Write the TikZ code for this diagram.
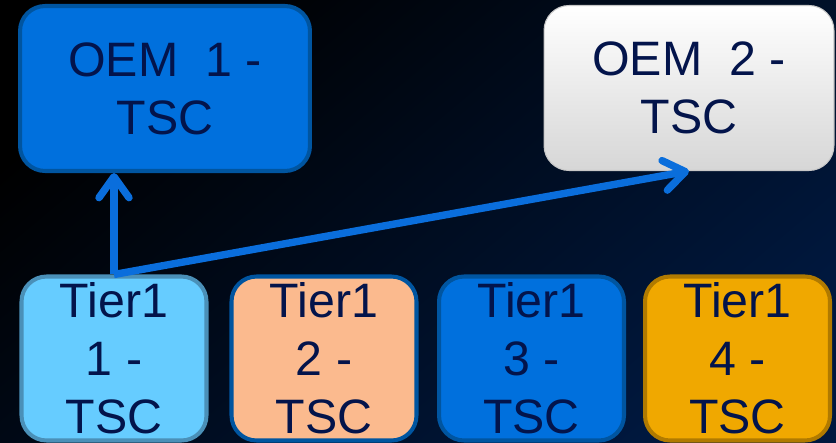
\documentclass[tikz,border=0pt]{standalone}
\usepackage{fontspec}
\setmainfont{Liberation Sans}
\usepackage{tikz}
\usetikzlibrary{arrows.meta,calc}

\definecolor{bgnavy}{RGB}{0,24,62}
\definecolor{bgmid}{RGB}{0,6,18}
\definecolor{oemblue}{RGB}{0,112,221}
\definecolor{oemline}{RGB}{0,85,160}
\definecolor{tskyfill}{RGB}{102,204,255}
\definecolor{tskyline}{RGB}{74,144,184}
\definecolor{tpeach}{RGB}{251,186,142}
\definecolor{torange}{RGB}{240,168,0}
\definecolor{toranline}{RGB}{176,122,0}
\definecolor{linkblue}{RGB}{10,110,220}
\definecolor{txtnavy}{RGB}{3,20,75}

\tikzset{
  tsc/.style={rounded corners=0.5cm, line width=2.3pt, align=center,
    text=txtnavy, font=\fontsize{27.5}{33}\selectfont, inner sep=0pt},
  oembox/.style={tsc, minimum width=5.8cm, minimum height=3.3cm},
  tierbox/.style={tsc, minimum width=3.7cm, minimum height=3.28cm},
  link/.style={draw=linkblue, line width=4.2pt,
    -{Straight Barb[length=0.42cm,width=0.6cm,round]}}
}

\begin{document}
\begin{tikzpicture}[x=0.02cm,y=-0.02cm]
% Background
\shade[top color=black, middle color=bgmid, bottom color=bgnavy, shading angle=40]
  (0,0) rectangle (836,443);
\useasboundingbox (0,0) rectangle (836,443);

% OEM level
\node[oembox, fill=oemblue, draw=oemline] (oem1) at (165,88.5) {OEM\ \ 1 -\\TSC};
\node[oembox, top color=white, bottom color=black!16, draw=black!22, line width=0.6pt]
  (oem2) at (689,88) {OEM\ \ 2 -\\TSC};

% Tier1 level
\node[tierbox, fill=tskyfill, draw=tskyline] (t1) at (114,358.5) {Tier1\\1 -\\TSC};
\node[tierbox, fill=tpeach, draw=oemline] (t2) at (324,358.5) {Tier1\\2 -\\TSC};
\node[tierbox, fill=oemblue, draw=oemline] (t3) at (531.5,358.5) {Tier1\\3 -\\TSC};
\node[tierbox, fill=torange, draw=toranline] (t4) at (737.5,358.5) {Tier1\\4 -\\TSC};

% Links from the first supplier
\draw[link] (t1.north) -- (t1.north |- oem1.south);
\draw[link] (t1.north) -- (oem2.south);
\end{tikzpicture}
\end{document}
